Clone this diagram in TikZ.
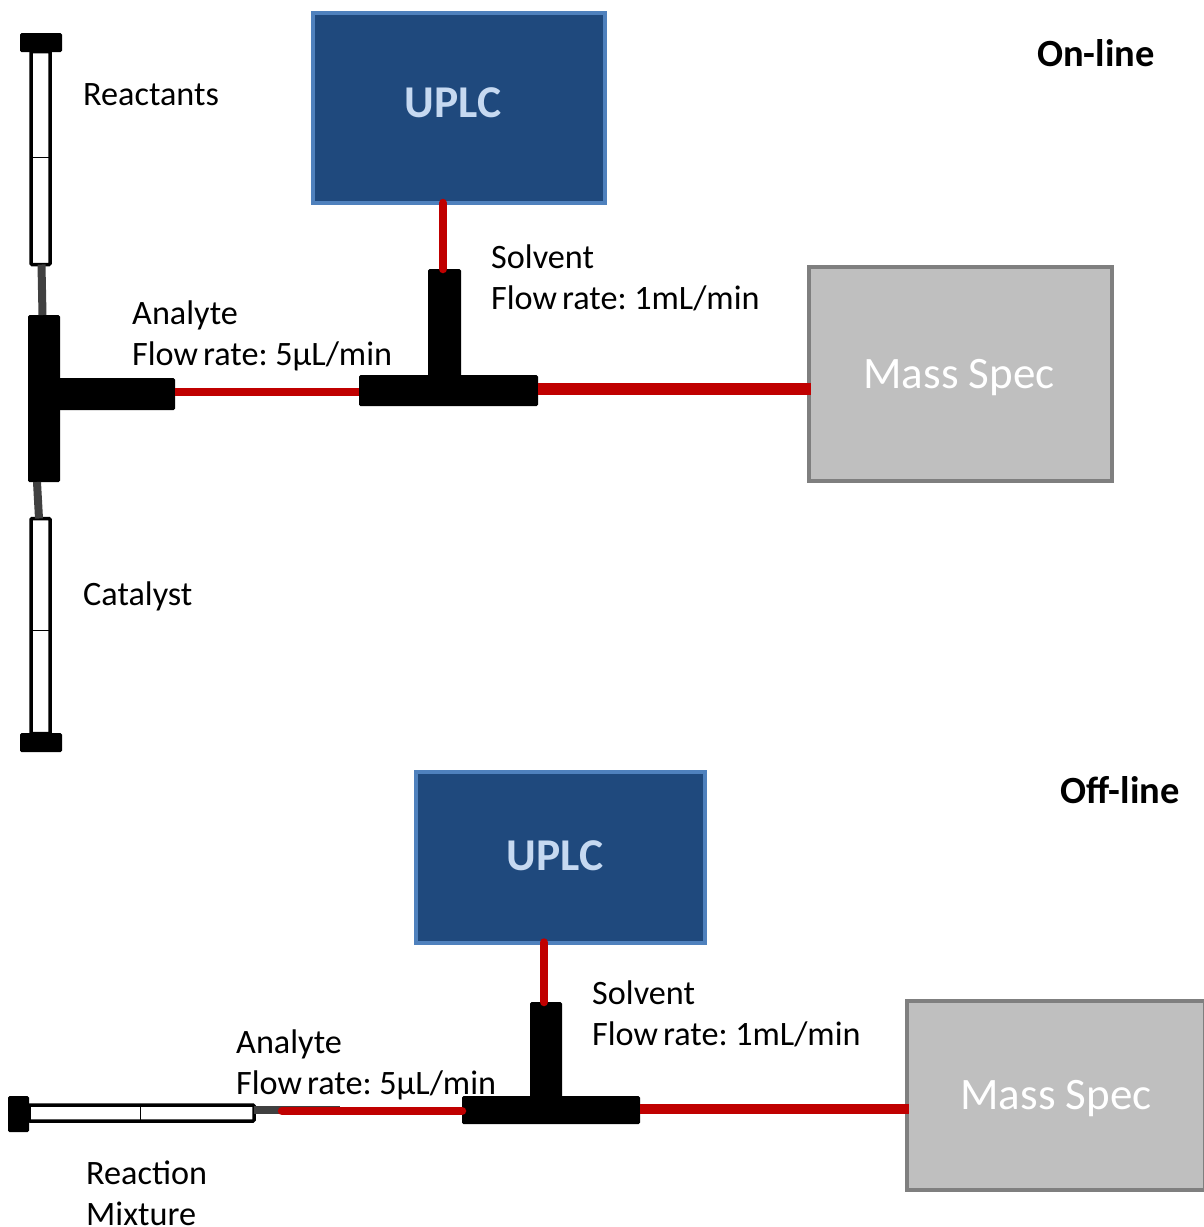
\documentclass[tikz,border=0pt]{standalone}
\usepackage{fontspec}
\setmainfont[WordSpace=0.65]{Carlito}
\newfontfamily\specfont{Carlito}
\usepackage{xcolor}
\usetikzlibrary{positioning}
\definecolor{uplcblue}{HTML}{1F497D}
\definecolor{uplcline}{HTML}{4F81BD}
\definecolor{uplctext}{HTML}{C6D9F1}
\definecolor{specgrey}{HTML}{BFBFBF}
\definecolor{specline}{HTML}{7F7F7F}
\definecolor{tubered}{HTML}{C00000}
\definecolor{stemgrey}{HTML}{404040}

\begin{document}
\begin{tikzpicture}[
    x=1pt, y=-1pt,
    uplc/.style={draw=uplcline, line width=4pt, fill=uplcblue, inner sep=0pt, outer sep=0pt},
    uplclabel/.style={font=\fontsize{45.5}{45}\selectfont\bfseries, text=uplctext},
    spec/.style={draw=specline, line width=4pt, fill=specgrey, inner sep=0pt, outer sep=0pt},
    speclabel/.style={text=white, font=\specfont\fontsize{45}{45}\selectfont},
    tee/.style={fill=black, rounded corners=1.5pt, inner sep=0pt, outer sep=0pt},
    plunger/.style={tee},
    barrel/.style={draw=black, line width=3.5pt, fill=white, rounded corners=1pt, inner sep=0pt, outer sep=0pt},
    txt/.style={font=\fontsize{34.2}{41}\selectfont, align=left, anchor=west, inner sep=0pt},
    heading/.style={font=\fontsize{38.5}{41}\selectfont\bfseries, anchor=center, inner sep=0pt},
    tube/.style={draw=tubered, line cap=round, line width=8.5pt},
    stem/.style={draw=stemgrey, line width=8pt},
    tick/.style={draw=black, line width=1pt},
  ]
  \useasboundingbox (0,0) rectangle (1203,1227);
  % On-line
  \node[uplc, minimum width=292pt, minimum height=190pt] (uplcon) at (459,108) {};
  \node[uplclabel] (uplcontext) at (453,103) {UPLC};
  \node[spec, minimum width=303pt, minimum height=214pt] (specon) at (960,373.5) {};
  \node[speclabel] (specontext) at (959,377.5) {Mass Spec};
  \node[plunger, minimum width=42pt, minimum height=19pt] (plungerr) at (41,42.5) {};
  \node[barrel, minimum width=19pt, minimum height=213pt] (barrelr) at (40.5,158) {};
  \node[plunger, minimum width=42pt, minimum height=19pt] (plungerc) at (41,742.5) {};
  \node[barrel, minimum width=19pt, minimum height=215pt] (barrelc) at (40.5,626) {};
  \draw[tick] (barrelr.west |- 0,157) -- (barrelr.east |- 0,157);
  \draw[tick] (barrelc.west |- 0,630) -- (barrelc.east |- 0,630);
  \node[tee, minimum width=32pt, minimum height=167pt] (teeav) at (44,398.5) {};
  \node[tee, minimum width=122pt, minimum height=32pt] (teeah) at (114,394) {};
  \node[tee, minimum width=33pt, minimum height=112pt] (teesv) at (444.5,325) {};
  \node[tee, minimum width=179pt, minimum height=31pt] (teesh) at (448.5,390.5) {};
  \draw[stem] ([xshift=1pt]barrelr.south) -- ([xshift=2pt]barrelr.south |- teeav.north);
  \draw[stem] ([xshift=-7pt]teeav.south) -- ([xshift=-5pt]teeav.south |- barrelc.north);
  \draw[tube, line cap=butt] ([yshift=2pt]teeah.east) -- ([yshift=2pt]teesh.west |- teeah.east);
  \draw[tube] (teesv.north -| 443,0) -- (uplcon.south -| 443,0);
  \draw[tube, line cap=butt, line width=12pt] ([yshift=1.5pt]teesh.east) -- ([xshift=2pt,yshift=1.5pt]specon.west |- teesh.east);
  \node[txt] (reactants) at (83,94.5) {Reactants};
  \node[txt] (catalyst) at (83,596) {Catalyst};
  \node[txt] (analyteon) at (132,335.5) {Analyte\\Flow rate: 5µL/min};
  \node[txt] (solventon) at (491,278) {Solvent\\Flow rate: 1mL/min};
  \node[heading] (online) at (1096,53) {On-line};
  % Off-line
  \node[uplc, minimum width=289pt, minimum height=171pt] (uplcoff) at (560.5,857) {};
  \node[uplclabel] (uplcofftext) at (555,856) {UPLC};
  \node[spec, minimum width=298pt, minimum height=189pt] (specoff) at (1056,1095) {};
  \node[speclabel] (specofftext) at (1056,1099) {Mass Spec};
  \node[plunger, minimum width=21pt, minimum height=36pt] (plungerm) at (18.5,1114) {};
  \node[barrel, minimum width=225pt, minimum height=16pt] (barrelm) at (141.5,1113) {};
  \draw[tick] (140,0 |- barrelm.north) -- (140,0 |- barrelm.south);
  \node[tee, minimum width=32pt, minimum height=98pt] (teemv) at (546,1051) {};
  \node[tee, minimum width=178pt, minimum height=28pt] (teemh) at (551,1110) {};
  \coordinate (stemend) at (340,1110);
  \draw[stem] (barrelm.east |- stemend) -- (stemend);
  \coordinate (tubestart) at (282,1111);
  \draw[tube] (tubestart) -- (tubestart -| teemh.west);
  \draw[tube] (teemv.north -| 544,0) -- (uplcoff.south -| 544,0);
  \draw[tube, line cap=butt, line width=10pt] (teemh.east |- 0,1109) -- ([xshift=2pt]specoff.west |- 0,1109);
  \node[txt] (analyteoff) at (236,1064.5) {Analyte\\Flow rate: 5µL/min};
  \node[txt] (solventoff) at (592,1014) {Solvent\\Flow rate: 1mL/min};
  \node[txt] (mixture) at (86,1193.5) {Reaction\\Mixture};
  \node[heading] (offline) at (1120,790) {Off-line};
\end{tikzpicture}
\end{document}
